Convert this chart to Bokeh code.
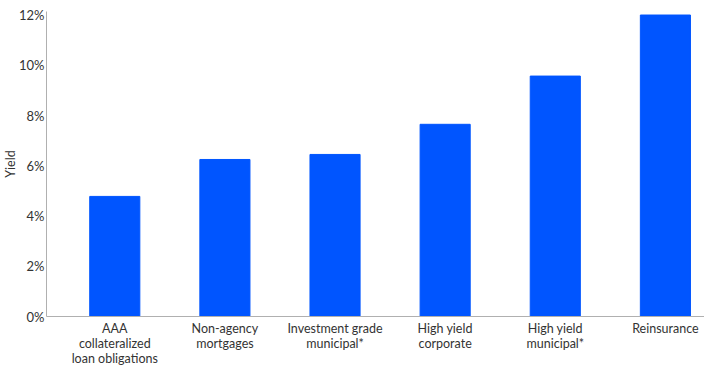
from bokeh.plotting import figure
from bokeh.models import ColumnDataSource, FixedTicker, Range1d, NumeralTickFormatter
from bokeh.embed import file_html
from bokeh.resources import INLINE

categories = [
    "AAA\ncollateralized\nloan obligations",
    "Non-agency\nmortgages",
    "Investment grade\nmunicipal*",
    "High yield\ncorporate",
    "High yield\nmunicipal*",
    "Reinsurance",
]
yields = [4.78, 6.25, 6.45, 7.65, 9.57, 12.0]
y_ticks = [0, 2, 4, 6, 8, 10, 12]

xs = list(range(len(categories)))
src = ColumnDataSource(dict(x=xs, top=yields))

FONT = "Lato"
TEXT = "#333333"

p = figure(width=704, height=368, output_backend="svg", toolbar_location=None,
           x_range=Range1d(-0.62, 5.355), y_range=Range1d(0, 12.14),
           min_border_left=0, min_border_right=0, min_border_top=11, min_border_bottom=0)
p.vbar(x="x", top="top", width=0.455, bottom=0, source=src, color="#0055FF")

p.xgrid.visible = False
p.ygrid.visible = False
p.outline_line_color = None

xa = p.xaxis[0]
xa.ticker = FixedTicker(ticks=xs)
xa.major_label_overrides = {i: c for i, c in zip(xs, categories)}
xa.major_tick_line_color = None
xa.minor_tick_line_color = None
xa.major_tick_out = 0
xa.major_tick_in = 0
xa.major_label_standoff = 4
xa.axis_line_color = "#b0b0b0"
xa.major_label_text_font = FONT
xa.major_label_text_font_size = "12.5px"
xa.major_label_text_line_height = 1.0
xa.major_label_text_color = TEXT

ya = p.yaxis[0]
ya.ticker = FixedTicker(ticks=y_ticks)
ya.formatter = NumeralTickFormatter(format="0")
ya.major_label_overrides = {t: f"{t}%" for t in y_ticks}
ya.major_tick_line_color = None
ya.minor_tick_line_color = None
ya.major_tick_out = 0
ya.major_tick_in = 0
ya.major_label_standoff = 2
ya.axis_line_color = "#b0b0b0"
ya.major_label_text_font = FONT
ya.major_label_text_font_size = "13px"
ya.major_label_text_color = TEXT
ya.axis_label = "Yield"
ya.axis_label_text_font = FONT
ya.axis_label_text_font_size = "12.5px"
ya.axis_label_text_font_style = "normal"
ya.axis_label_text_color = TEXT
ya.axis_label_standoff = -2

open("out.html", "w").write(file_html(p, INLINE))
